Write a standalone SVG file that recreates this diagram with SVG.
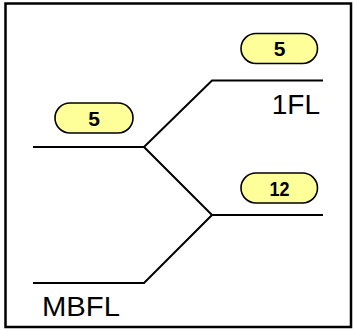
<svg xmlns="http://www.w3.org/2000/svg" width="353" height="330" viewBox="0 0 353 330">
<style>
.pill{fill:#FFFF99;stroke:#000;stroke-width:1.6}
.pt{font-family:"Liberation Sans",Arial,sans-serif;font-weight:bold;font-size:21px;fill:#000;text-anchor:middle}
.lbl{font-family:"Liberation Sans",Arial,sans-serif;font-size:28px;fill:#000}
.ln{fill:none;stroke:#000;stroke-width:2}
</style>
<rect x="0" y="0" width="353" height="330" fill="#fff"/>
<rect x="5.5" y="3.5" width="345.5" height="323.5" fill="none" stroke="#000" stroke-width="2.5"/>
<g id="connectors">
<polyline class="ln" points="33,147 144,147 212,80.5 323,80.5"/>
<polyline class="ln" points="144,147 212,215 323,215"/>
<polyline class="ln" points="33,283 144,283 212,215"/>
</g>
<g id="pill-left">
<rect class="pill" x="55" y="103" width="78" height="30" rx="15"/>
<text class="pt" x="94" y="125.5">5</text>
</g>
<g id="pill-top">
<rect class="pill" x="241" y="33.5" width="76.5" height="30" rx="15"/>
<text class="pt" x="279.5" y="56">5</text>
</g>
<g id="pill-mid">
<rect class="pill" x="241" y="173" width="76.5" height="30" rx="15"/>
<text class="pt" x="279.5" y="195.5" textLength="20" lengthAdjust="spacingAndGlyphs">12</text>
</g>
<g id="label-1FL">
<text class="lbl" x="320" y="114" text-anchor="end">1FL</text>
</g>
<g id="label-MBFL">
<text class="lbl" x="42" y="316" font-size="29" textLength="78" lengthAdjust="spacingAndGlyphs">MBFL</text>
</g>
</svg>
